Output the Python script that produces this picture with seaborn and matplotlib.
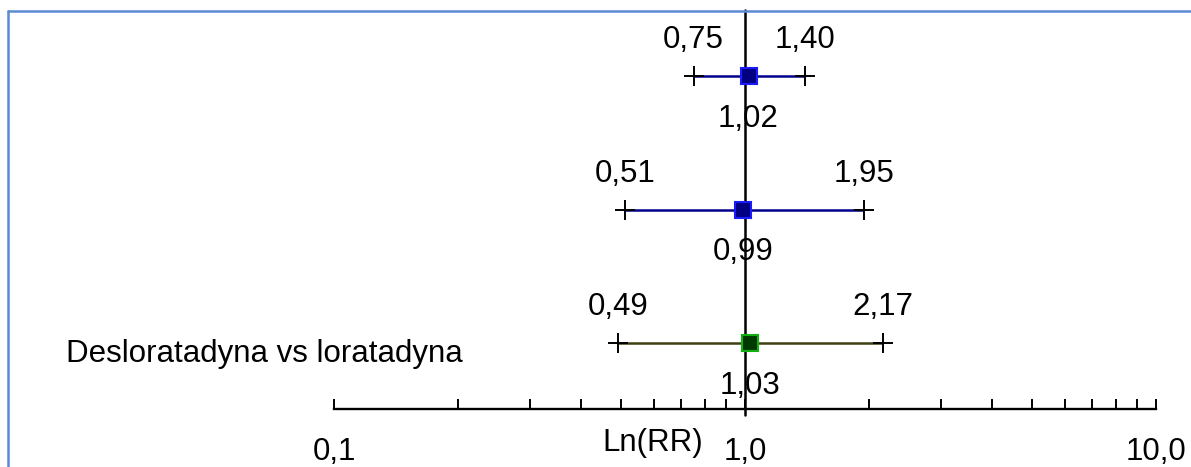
import matplotlib
matplotlib.use("Agg")
import matplotlib.pyplot as plt
import matplotlib.transforms as mtransforms
from matplotlib.lines import Line2D
from matplotlib.ticker import FixedLocator, NullFormatter
import seaborn as sns
import pandas as pd
import numpy as np

# ---- data ----
comparisons = ["", "", "Desloratadyna vs loratadyna"]   # top -> bottom
rr = [1.02, 0.99, 1.03]
ci_low = [0.75, 0.51, 0.49]
ci_high = [1.40, 1.95, 2.17]
low_labels = ["0,75", "0,51", "0,49"]
high_labels = ["1,40", "1,95", "2,17"]
rr_labels = ["1,02", "0,99", "1,03"]
ref_value = 1.0
major_ticks = [0.1, 1.0, 10.0]
major_labels = ["0,1", "1,0", "10,0"]
minor_ticks = [0.2, 0.3, 0.4, 0.5, 0.6, 0.7, 0.8, 0.9, 2, 3, 4, 5, 6, 7, 8, 9]
x_label = "Ln(RR)"

line_colors = ["#00008B", "#00008B", "#3F3F12"]
face_colors = ["#000080", "#000080", "#003800"]
edge_colors = ["#1A1AFF", "#1A1AFF", "#10B010"]

sns.set_theme(style="white")
plt.rcParams["font.family"] = ["Liberation Sans", "DejaVu Sans"]

W, H, DPI = 1191, 467, 100
fig = plt.figure(figsize=(W / DPI, H / DPI), dpi=DPI)
fig.patch.set_facecolor("white")

FS = 22.5
n = len(rr)
ypos = list(range(n - 1, -1, -1))   # top row has highest y

df = pd.DataFrame({"rr": rr, "y": ypos, "grp": [str(i) for i in range(n)]})

# axes geometry (pixels)
left_px, right_px = 334, 1156
axis_y_px, top_px = 409, 10
row0_px, spacing_px = 343, 133.5
ax = fig.add_axes([left_px / W, (H - axis_y_px) / H,
                   (right_px - left_px) / W, (axis_y_px - top_px) / H])
ax.set_facecolor("none")
ax.set_xscale("log")
ax.set_xlim(0.1, 10)
ax.set_ylim((row0_px - axis_y_px) / spacing_px, (row0_px - top_px) / spacing_px)

for s in ["top", "left", "right"]:
    ax.spines[s].set_visible(False)
ax.spines["bottom"].set_linewidth(1.7)
ax.spines["bottom"].set_color("black")
ax.set_yticks([])

ax.xaxis.set_major_locator(FixedLocator(major_ticks))
ax.set_xticklabels(major_labels, fontsize=FS)
ax.xaxis.set_minor_locator(FixedLocator(minor_ticks))
ax.xaxis.set_minor_formatter(NullFormatter())
ax.tick_params(axis="x", which="both", direction="in", length=7.5, width=1.4,
               color="black", bottom=True)
ax.tick_params(axis="x", which="major", pad=20, labelcolor="black")

# reference line
ax.plot([ref_value, ref_value],
        [(row0_px - 415) / spacing_px, (row0_px - top_px) / spacing_px],
        color="black", lw=1.8, clip_on=False, zorder=2)

# CI lines and caps
for i in range(n):
    ax.plot([ci_low[i], ci_high[i]], [ypos[i], ypos[i]], color=line_colors[i],
            lw=1.8, zorder=3, solid_capstyle="butt")
    ax.plot([ci_low[i], ci_high[i]], [ypos[i], ypos[i]], linestyle="none",
            marker="+", markersize=13.7, markeredgewidth=1.4, color="black",
            zorder=4)

# point estimates
sns.scatterplot(data=df, x="rr", y="y", hue="grp",
                palette=face_colors, marker="s", s=125, legend=False,
                ax=ax, zorder=5, linewidth=0)
for i in range(n):
    ax.plot(rr[i], ypos[i], marker="s", markersize=11.2,
            markerfacecolor=face_colors[i], markeredgecolor=edge_colors[i],
            markeredgewidth=1.5, linestyle="none", zorder=6)

ax.set_xlabel("")
ax.set_ylabel("")

# value labels
for i in range(n):
    ax.annotate(low_labels[i], (ci_low[i], ypos[i]), xytext=(0, 28),
                textcoords="offset pixels", ha="center", va="baseline",
                fontsize=FS, color="black", annotation_clip=False)
    ax.annotate(high_labels[i], (ci_high[i], ypos[i]), xytext=(0, 28),
                textcoords="offset pixels", ha="center", va="baseline",
                fontsize=FS, color="black", annotation_clip=False)
    ax.annotate(rr_labels[i], (rr[i], ypos[i]), xytext=(0, -51),
                textcoords="offset pixels", ha="center", va="baseline",
                fontsize=FS, color="black", annotation_clip=False)

# comparison labels
trans = mtransforms.blended_transform_factory(fig.transFigure, ax.transData)
for i in range(n):
    if comparisons[i]:
        ax.annotate(comparisons[i], (66 / W, ypos[i]), xycoords=trans,
                    xytext=(0, -19), textcoords="offset pixels",
                    ha="left", va="baseline", fontsize=FS, color="black",
                    annotation_clip=False)

# axis title
fig.text(653 / W, (H - 451) / H, x_label, ha="center", va="baseline",
         fontsize=FS, color="black")

# frame lines (top and left)
border_color = "#5B8BD3"
fig.add_artist(Line2D([8 / W, 1], [1 - 10.5 / H, 1 - 10.5 / H],
                      transform=fig.transFigure, color=border_color, lw=1.8))
fig.add_artist(Line2D([8 / W, 8 / W], [0, 1 - 10.5 / H],
                      transform=fig.transFigure, color=border_color, lw=1.8))

fig.savefig("out.png", dpi=DPI, facecolor="white")
